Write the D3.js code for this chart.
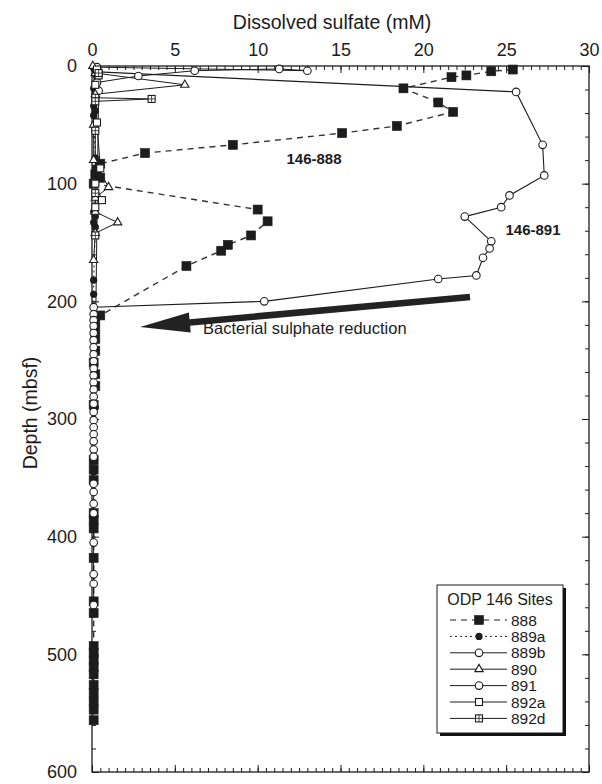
<!DOCTYPE html>
<html><head><meta charset="utf-8">
<script src="https://cdn.jsdelivr.net/npm/d3@7"></script>
<style>
html,body{margin:0;padding:0;background:#fff;}
svg{display:block;font-family:"Liberation Sans",Arial,Helvetica,sans-serif;}
</style></head><body>
<svg id="chart" width="602" height="784"></svg>
<script>
// Pore-water dissolved sulfate vs depth, ODP Leg 146 sites
const sulfateTicks = [0, 5, 10, 15, 20, 25, 30];
const depthTicks = [0, 100, 200, 300, 400, 500, 600];
const siteNames = ["888", "889a", "889b", "890", "891", "892a", "892d"];

// each point: [sulfate (mM), depth (mbsf)]
const site888 = [[25.4,3],[24.1,4.5],[22.6,8],[21.7,9.5],[18.8,19],[20.9,31],[21.8,39],[18.4,51],[15.1,57],[8.5,67],[3.2,74],[0.5,83],[0.3,88],[0.2,92],[0.5,95],[0.1,100],[10.0,122],[10.6,132],[9.6,144],[8.2,152],[7.8,157],[5.7,170],[0.5,212],[0.2,217],[0.2,224],[0.2,232],[0.2,242],[0.1,252],[0.2,262],[0.2,272],[0.1,288],[0.1,335],[0.1,343],[0.1,352],[0.1,380],[0.1,386],[0.1,393],[0.1,418],[0.1,455],[0.1,465],[0.1,493],[0.1,499],[0.1,505],[0.1,511],[0.1,517],[0.1,526],[0.1,533],[0.1,540],[0.1,547],[0.1,556]];
const site889a = [[0.1,2],[0.2,7],[0.3,11],[0.2,15],[0.1,19],[0.2,23],[0.1,34],[0.2,38],[0.1,42],[0.2,78],[0.1,124],[0.2,128],[0.1,133],[0.2,137],[0.1,182],[0.1,194],[0.2,290],[0.1,345]];
const site889b = [[0.3,1],[13.0,4],[11.3,2.5],[6.2,4],[2.8,8.5],[0.3,14],[0.4,21],[0.1,355],[0.1,362],[0.1,372],[0.1,380],[0.1,405],[0.1,432],[0.1,440],[0.1,458]];
const site890 = [[0.05,0],[0.2,6],[5.6,16],[0.2,24],[0.1,50],[0.1,80],[1.0,103],[0.2,112],[0.2,124],[1.55,133],[0.2,142],[0.1,165]];
const site891 = [[0.4,5],[25.6,22],[27.2,67],[27.3,93],[25.2,110],[24.7,120],[22.5,128],[24.1,149],[24.0,155],[23.6,163],[23.2,178],[20.9,181],[10.4,200],[0.1,205],[0.1,211],[0.1,216],[0.1,221],[0.1,227],[0.1,233],[0.1,239],[0.1,245],[0.1,251],[0.1,257],[0.1,263],[0.1,269],[0.1,275],[0.1,281],[0.1,287],[0.1,294],[0.1,301],[0.1,307],[0.1,313],[0.1,319],[0.1,326],[0.1,332]];
const site892a = [[0.3,3],[0.4,8],[0.2,16],[0.3,48],[0.5,87],[0.2,100],[0.6,114],[0.2,120]];
const site892d = [[0.4,6],[0.2,27],[3.6,28],[0.2,30],[0.2,55],[0.2,108],[0.2,144]];

const ink = "#1c1c1c";
const sites = [
  {name: siteNames[0], data: site888,  marker: "fsquare", dash: "6,5", width: 1.4},
  {name: siteNames[1], data: site889a, marker: "fcircle", dash: "2,3", width: 1.1},
  {name: siteNames[2], data: site889b, marker: "ocircle", dash: null,  width: 1.0},
  {name: siteNames[3], data: site890,  marker: "otri",    dash: null,  width: 1.0},
  {name: siteNames[4], data: site891,  marker: "ocircle", dash: null,  width: 1.1},
  {name: siteNames[5], data: site892a, marker: "osquare", dash: null,  width: 1.0},
  {name: siteNames[6], data: site892d, marker: "xsquare", dash: null,  width: 1.0}
];

const svg = d3.select("#chart");
const plot = {left: 92, right: 589, top: 66, bottom: 772};
const x = d3.scaleLinear().domain([0, 30]).range([plot.left, plot.right]);
const y = d3.scaleLinear().domain([0, 600]).range([plot.top, plot.bottom]);

// axes: ticks point into the plot on all four sides
const minorX = d3.range(0, 30.001, 0.5);
const minorY = d3.range(0, 600.001, 20);
function styleAxis(g) {
  g.select(".domain").remove();
  g.selectAll("line").attr("stroke", ink).attr("stroke-width", 1);
  g.selectAll("text").attr("fill", ink).style("font-size", "18px").style("font-family", "Liberation Sans, Arial, sans-serif");
}
svg.append("g").attr("transform", `translate(0,${plot.top})`)
  .call(d3.axisTop(x).tickValues(minorX).tickSize(-4).tickFormat("")).call(styleAxis);
svg.append("g").attr("transform", `translate(0,${plot.top})`)
  .call(d3.axisTop(x).tickValues(sulfateTicks).tickSize(-7).tickPadding(10).tickFormat(d3.format("d"))).call(styleAxis);
svg.append("g").attr("transform", `translate(0,${plot.bottom})`)
  .call(d3.axisBottom(x).tickValues(minorX).tickSize(-4).tickFormat("")).call(styleAxis);
svg.append("g").attr("transform", `translate(0,${plot.bottom})`)
  .call(d3.axisBottom(x).tickValues(sulfateTicks).tickSize(-7).tickFormat("")).call(styleAxis);
svg.append("g").attr("transform", `translate(${plot.left},0)`)
  .call(d3.axisLeft(y).tickValues(minorY).tickSize(-4).tickFormat("")).call(styleAxis);
svg.append("g").attr("transform", `translate(${plot.left},0)`)
  .call(d3.axisLeft(y).tickValues(depthTicks).tickSize(-7).tickPadding(15).tickFormat(d3.format("d"))).call(styleAxis);
svg.append("g").attr("transform", `translate(${plot.right},0)`)
  .call(d3.axisRight(y).tickValues(minorY).tickSize(-4).tickFormat("")).call(styleAxis);
svg.append("g").attr("transform", `translate(${plot.right},0)`)
  .call(d3.axisRight(y).tickValues(depthTicks).tickSize(-7).tickFormat("")).call(styleAxis);

svg.append("rect")
  .attr("x", plot.left).attr("y", plot.top)
  .attr("width", plot.right - plot.left).attr("height", plot.bottom - plot.top)
  .attr("fill", "none").attr("stroke", ink).attr("stroke-width", 1.3);

// axis titles
svg.append("text").attr("x", 332).attr("y", 29).attr("text-anchor", "middle")
  .attr("fill", ink).style("font-size", "19.5px").text("Dissolved sulfate (mM)");
svg.append("text").attr("transform", `translate(37,${(plot.top + plot.bottom) / 2 - 6}) rotate(-90)`)
  .attr("text-anchor", "middle").attr("fill", ink).style("font-size", "19.5px").text("Depth (mbsf)");

// marker drawing
function drawMarker(g, kind, cx, cy) {
  const s = 7;
  if (kind === "fsquare") {
    g.append("rect").attr("x", cx - 4.5).attr("y", cy - 4.5).attr("width", 9).attr("height", 9)
      .attr("fill", ink).attr("stroke", ink).attr("stroke-width", 0.6);
  } else if (kind === "fcircle") {
    g.append("circle").attr("cx", cx).attr("cy", cy).attr("r", 3.6).attr("fill", ink);
  } else if (kind === "ocircle") {
    g.append("circle").attr("cx", cx).attr("cy", cy).attr("r", 3.8)
      .attr("fill", "#fff").attr("stroke", ink).attr("stroke-width", 1.1);
  } else if (kind === "otri") {
    g.append("path").attr("transform", `translate(${cx},${cy})`)
      .attr("d", d3.symbol(d3.symbolTriangle, 30)())
      .attr("fill", "#fff").attr("stroke", ink).attr("stroke-width", 1.1);
  } else if (kind === "osquare") {
    g.append("rect").attr("x", cx - s / 2).attr("y", cy - s / 2).attr("width", s).attr("height", s)
      .attr("fill", "#fff").attr("stroke", ink).attr("stroke-width", 1.1);
  } else if (kind === "xsquare") {
    g.append("rect").attr("x", cx - s / 2).attr("y", cy - s / 2).attr("width", s).attr("height", s)
      .attr("fill", "#fff").attr("stroke", ink).attr("stroke-width", 1.1);
    g.append("path").attr("d", `M${cx - s / 2},${cy}H${cx + s / 2}M${cx},${cy - s / 2}V${cy + s / 2}`)
      .attr("stroke", ink).attr("stroke-width", 0.8);
  }
}

const line = d3.line().x(d => x(d[0])).y(d => y(d[1]));
const dataLayer = svg.append("g");
sites.forEach(site => {
  dataLayer.append("path").datum(site.data).attr("d", line)
    .attr("fill", "none").attr("stroke", site.dash ? "#333" : ink)
    .attr("stroke-width", site.width)
    .attr("stroke-dasharray", site.dash);
});
sites.forEach(site => {
  const g = dataLayer.append("g");
  site.data.forEach(d => drawMarker(g, site.marker, x(d[0]), y(d[1])));
});

// site labels
svg.append("text").attr("x", 314).attr("y", 164).attr("text-anchor", "middle")
  .attr("fill", ink).style("font-size", "15px").style("font-weight", "bold").text("146-888");
svg.append("text").attr("x", 533).attr("y", 235).attr("text-anchor", "middle")
  .attr("fill", ink).style("font-size", "15px").style("font-weight", "bold").text("146-891");

// sulphate reduction arrow
const tail = [470, 297], tip = [140, 327];
const ang = Math.atan2(tip[1] - tail[1], tip[0] - tail[0]);
const headLen = 50, headHalf = 10, shaftHalf = 3.3;
const ux = Math.cos(ang), uy = Math.sin(ang), px = -uy, py = ux;
const base = [tip[0] - ux * headLen, tip[1] - uy * headLen];
const arrowPts = [
  [tail[0] + px * shaftHalf, tail[1] + py * shaftHalf],
  [base[0] + px * shaftHalf, base[1] + py * shaftHalf],
  [base[0] + px * headHalf, base[1] + py * headHalf],
  tip,
  [base[0] - px * headHalf, base[1] - py * headHalf],
  [base[0] - px * shaftHalf, base[1] - py * shaftHalf],
  [tail[0] - px * shaftHalf, tail[1] - py * shaftHalf]
];
svg.append("path").attr("d", d3.line()(arrowPts) + "Z").attr("fill", "#222");
svg.append("text").attr("x", 203).attr("y", 334).attr("fill", ink)
  .style("font-size", "16.5px").text("Bacterial sulphate reduction");

// legend
const lg = svg.append("g");
const box = {x: 437, y: 585, w: 126, h: 148};
lg.append("rect").attr("x", box.x + 3).attr("y", box.y + 3).attr("width", box.w).attr("height", box.h).attr("fill", "#111");
lg.append("rect").attr("x", box.x).attr("y", box.y).attr("width", box.w).attr("height", box.h)
  .attr("fill", "#fff").attr("stroke", ink).attr("stroke-width", 1);
lg.append("text").attr("x", box.x + box.w / 2).attr("y", 605).attr("text-anchor", "middle")
  .attr("fill", ink).style("font-size", "16px").text("ODP 146 Sites");
sites.forEach((site, i) => {
  const cy = 620 + i * 16.4;
  lg.append("line").attr("x1", 450).attr("x2", 507).attr("y1", cy).attr("y2", cy)
    .attr("stroke", ink).attr("stroke-width", 1).attr("stroke-dasharray", site.dash);
  drawMarker(lg, site.marker, 479, cy);
  lg.append("text").attr("x", 511).attr("y", cy + 5.5).attr("fill", ink)
    .style("font-size", "15.5px").text(site.name);
});
</script>
</body></html>
